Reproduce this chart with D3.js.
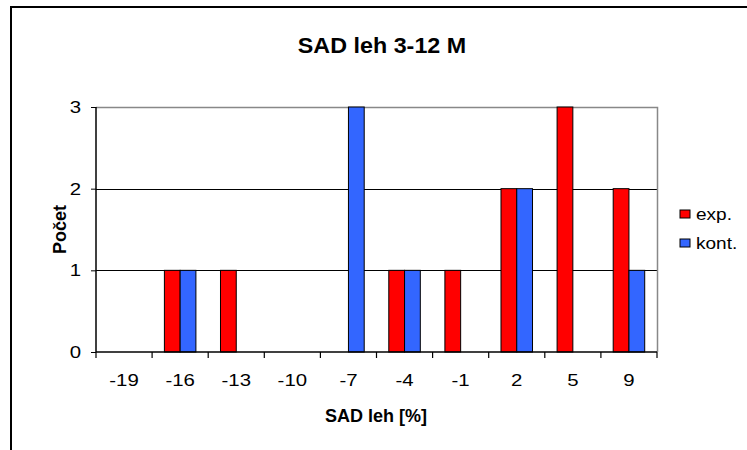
<!DOCTYPE html>
<html>
<head>
<meta charset="utf-8">
<script src="https://cdn.jsdelivr.net/npm/d3@7"></script>
<style>
  html, body { margin: 0; padding: 0; background: #fff; }
  svg { display: block; font-family: "Liberation Sans", Arial, sans-serif; }
</style>
</head>
<body>
<svg id="chart" width="747" height="450"></svg>
<script>
// Histogram bins of SAD leh [%] and counts per group
const categories = ["-19", "-16", "-13", "-10", "-7", "-4", "-1", "2", "5", "9"];
const seriesNames = ["exp.", "kont."];
const expValues  = [0, 1, 1, 0, 0, 1, 1, 2, 3, 2];
const kontValues = [0, 1, 0, 0, 3, 1, 0, 2, 0, 1];
const yTicks = [0, 1, 2, 3];
const colors = ["#ff0000", "#3366ff"];

const svg = d3.select("#chart");
const plot = { left: 96, right: 657, top: 107, bottom: 352 };
const FONT = "Liberation Sans, Arial, sans-serif";
const WIDE = 1.2; // horizontal stretch of the axis and legend lettering

// outer chart frame (runs past the right and bottom edges)
svg.append("rect")
  .attr("x", 11).attr("y", 7)
  .attr("width", 760).attr("height", 460)
  .attr("fill", "none").attr("stroke", "#000").attr("stroke-width", 2);

const x0 = d3.scaleBand().domain(categories).range([plot.left, plot.right]).padding(0);
const bw = x0.bandwidth();
const x1 = d3.scaleBand().domain(seriesNames).range([0, bw]).paddingInner(0).paddingOuter(0.78);
const y = d3.scaleLinear().domain([0, 3]).range([plot.bottom, plot.top]);

// gridlines
svg.append("g").selectAll("line").data(yTicks.filter(d => d > 0)).join("line")
  .attr("x1", plot.left).attr("x2", plot.right)
  .attr("y1", d => Math.round(y(d)) + 0.5).attr("y2", d => Math.round(y(d)) + 0.5)
  .attr("stroke", "#000").attr("stroke-width", 1);

// plot area border (top and right)
svg.append("path")
  .attr("d", `M${plot.left},${plot.top + 0.5}H${plot.right + 0.5}V${plot.bottom}`)
  .attr("fill", "none").attr("stroke", "#888").attr("stroke-width", 1.5);

// bars
const rows = categories.map((c, i) => ({ cat: c, vals: [expValues[i], kontValues[i]] }));
const groups = svg.append("g").selectAll("g").data(rows).join("g")
  .attr("transform", d => `translate(${x0(d.cat)},0)`);
groups.selectAll("rect")
  .data(d => d.vals.map((v, j) => ({ name: seriesNames[j], v, j })).filter(e => e.v > 0))
  .join("rect")
  .attr("x", e => x1(e.name))
  .attr("width", x1.bandwidth())
  .attr("y", e => y(e.v))
  .attr("height", e => y(0) - y(e.v))
  .attr("fill", e => colors[e.j])
  .attr("stroke", "#000").attr("stroke-width", 1);

// y axis
const yAxis = d3.axisLeft(y).tickValues(yTicks).tickFormat(d3.format("d")).tickSize(5).tickPadding(0);
const gy = svg.append("g").attr("transform", `translate(${plot.left},0)`).call(yAxis);
gy.select(".domain").attr("stroke", "#000").attr("stroke-width", 1.5).attr("d", `M0,${plot.top}V${plot.bottom}`);
gy.selectAll(".tick line").attr("stroke", "#000");
gy.selectAll(".tick text").attr("x", null)
  .attr("transform", `translate(-15,0) scale(${WIDE},1)`)
  .attr("font-size", 17).attr("fill", "#000").attr("font-family", FONT);

// x axis: ticks at category boundaries, labels centered
const xAxis = d3.axisBottom(x0).tickSize(0).tickPadding(22);
const gx = svg.append("g").attr("transform", `translate(0,${plot.bottom})`).call(xAxis);
gx.select(".domain").attr("stroke", "#000").attr("stroke-width", 1.5).attr("d", `M${plot.left},0H${plot.right}`);
gx.selectAll(".tick text").attr("transform", `scale(${WIDE},1)`)
  .attr("font-size", 17).attr("fill", "#000").attr("font-family", FONT);
gx.append("g").selectAll("line").data(categories.concat(["end"])).join("line")
  .attr("x1", (d, i) => plot.left + i * bw).attr("x2", (d, i) => plot.left + i * bw)
  .attr("y1", 0).attr("y2", 6).attr("stroke", "#000").attr("stroke-width", 1.2);

// title
svg.append("text").attr("transform", "translate(382,53) scale(1.06,1)").attr("text-anchor", "middle")
  .attr("font-size", 22).attr("font-weight", "bold").text("SAD leh 3-12 M");

// axis titles
svg.append("text").attr("x", 376).attr("y", 422).attr("text-anchor", "middle")
  .attr("font-size", 18).attr("font-weight", "bold").text("SAD leh [%]");
svg.append("text").attr("transform", `translate(66,${(plot.top + plot.bottom) / 2}) rotate(-90)`)
  .attr("text-anchor", "middle").attr("font-size", 18).attr("font-weight", "bold").text("Počet");

// legend
const legend = svg.append("g").selectAll("g").data(seriesNames).join("g")
  .attr("transform", (d, i) => `translate(680,${210 + i * 29})`);
legend.append("rect").attr("width", 10).attr("height", 8)
  .attr("fill", (d, i) => colors[i]).attr("stroke", "#000").attr("stroke-width", 1);
legend.append("text").attr("transform", "translate(16,10) scale(1.12,1)")
  .attr("font-size", 17).text(d => d);
</script>
</body>
</html>
